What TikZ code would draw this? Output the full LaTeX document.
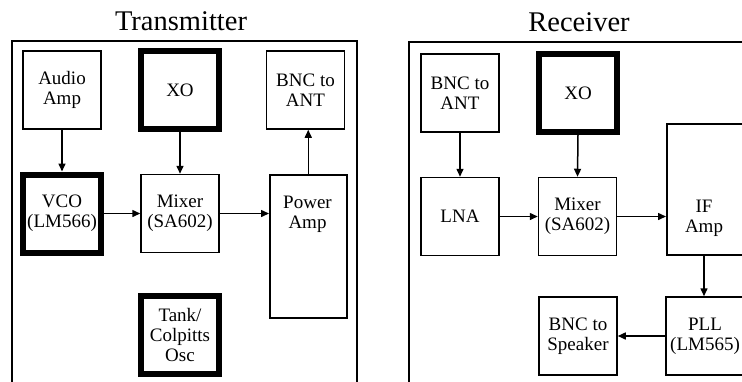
\documentclass[tikz,border=0pt]{standalone}
\usepackage{fontspec}
\setmainfont{Liberation Serif}
\usetikzlibrary{arrows.meta}
\tikzset{
  box/.style={draw, line width=1.5pt, rectangle, inner sep=0pt, minimum width=78pt, minimum height=78pt, align=center, font=\fontsize{19}{20}\selectfont},
  thickbox/.style={box, line width=6pt},
  txt/.style={inner sep=0pt, align=center, font=\fontsize{19}{20}\selectfont},
  frame/.style={draw, line width=1.8pt},
  title/.style={inner sep=0pt, anchor=base, font=\fontsize{28.5}{30}\selectfont},
  arr/.style={line width=1.5pt, -{Triangle[length=8pt,width=7pt]}}
}
\begin{document}
\begin{tikzpicture}[x=1pt,y=-1pt]
\clip (0,0) rectangle (742,381);
% Transmitter
\node[title] (ttx) at (181,30) {Transmitter};
\draw[frame] (12,41) rectangle (357,420);
\node[box] (aa) at (62,90) {Audio\\Amp};
\node[thickbox] (xo1) at (180,90) {XO};
\node[box] (bnc1) at (305.5,90) {BNC to\\ANT};
\node[thickbox] (vco) at (62,213.5) {VCO\\(LM566)};
\node[box] (mix1) at (180,213.5) {Mixer\\(SA602)};
\node[box, minimum width=77pt, minimum height=143pt, anchor=north west] (pa) at (269,174) {};
\node[txt] (patxt) at (307.5,214) {Power\\Amp};
\node[thickbox] (tank) at (180,334.5) {Tank/\\Colpitts\\Osc};
\draw[arr] (aa.south) -- (vco.north);
\draw[arr] (xo1.south) -- (mix1.north);
\draw[arr] (pa.north) -- (pa.north |- bnc1.south);
\draw[arr] (vco.east) -- (mix1.west);
\draw[arr] (mix1.east) -- (mix1.east -| pa.west);
% Receiver
\node[title] (trx) at (579,31.5) {Receiver};
\draw[frame] (409,42) rectangle (780,420);
\node[box] (bnc2) at (460,93) {BNC to\\ANT};
\node[thickbox] (xo2) at (578,93) {XO};
\node[box] (lna) at (460,216.5) {LNA};
\node[box] (mix2) at (577.5,216.5) {Mixer\\(SA602)};
\node[box, minimum height=131pt, anchor=north west] (ifa) at (666,123) {};
\node[txt] (iftxt) at (704,218) {IF\\Amp};
\node[box] (pll) at (705,336) {PLL\\(LM565)};
\node[box] (spk) at (578,336) {BNC to\\Speaker};
\draw[arr] (bnc2.south) -- (lna.north);
\draw[arr] (xo2.south) -- (mix2.north);
\draw[arr] (lna.east) -- (mix2.west);
\draw[arr] (mix2.east) -- (mix2.east -| ifa.west);
\draw[arr] (ifa.south -| iftxt) -- (iftxt |- pll.north);
\draw[arr] (pll.west) -- (spk.east);
\end{tikzpicture}
\end{document}
